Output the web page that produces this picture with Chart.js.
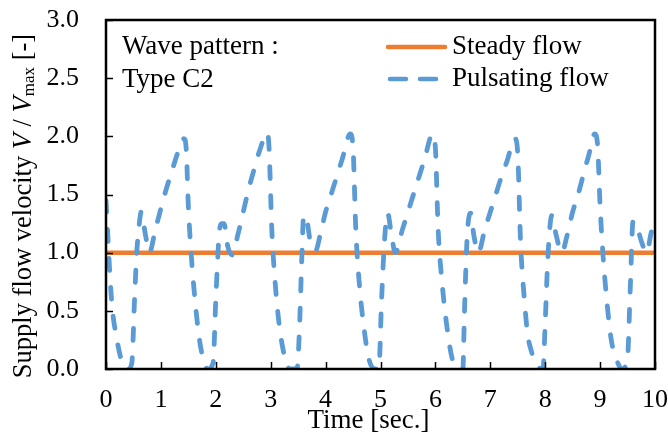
<!DOCTYPE html>
<html><head><meta charset="utf-8">
<script src="https://cdn.jsdelivr.net/npm/chart.js@4/dist/chart.umd.min.js"></script>
<style>html,body{margin:0;padding:0;background:#fff;overflow:hidden;}#wrap{width:668px;height:436px;}</style>
</head><body><div id="wrap"><canvas id="c" width="668" height="436"></canvas></div>
<script>
// ---- data ----
const timeSec = [0,0.1,0.2,0.3,0.4,0.47,0.52,0.56,0.6,0.64,0.72,0.79,0.9,1.0,1.1,1.2,1.3,1.42,1.46,1.5,1.55,1.62,1.7,1.78,1.85,1.95,2.0,2.06,2.1,2.15,2.22,2.3,2.4,2.5,2.6,2.7,2.8,2.94,2.97,3.02,3.08,3.15,3.22,3.3,3.35,3.48,3.52,3.57,3.6,3.65,3.72,3.82,3.9,4.0,4.1,4.2,4.3,4.45,4.5,4.55,4.62,4.7,4.78,4.9,4.97,5.02,5.08,5.13,5.2,5.27,5.4,5.5,5.6,5.7,5.8,5.95,6.0,6.05,6.12,6.2,6.3,6.42,6.5,6.53,6.58,6.64,6.7,6.78,6.9,7.0,7.1,7.2,7.3,7.45,7.5,7.55,7.62,7.68,7.75,7.82,7.96,8.0,8.05,8.12,8.2,8.3,8.4,8.5,8.6,8.7,8.8,8.9,8.95,9.0,9.05,9.12,9.2,9.3,9.4,9.5,9.55,9.6,9.66,9.75,9.85,9.92,10.0];
const pulsatingFlow = [1.45,0.6,0.25,0.05,0,0.05,0.6,1.0,1.22,1.35,1.15,1.0,1.2,1.38,1.55,1.7,1.85,1.98,1.9,1.4,1.0,0.6,0.26,0.07,0,0.05,0.6,1.15,1.25,1.25,1.05,0.98,1.15,1.35,1.55,1.72,1.88,2.03,1.9,1.2,0.75,0.4,0.18,0.03,0,0,0.3,1.0,1.32,1.3,1.1,1.02,1.15,1.35,1.5,1.65,1.8,2.02,1.9,1.2,0.7,0.35,0.1,0,0,0.6,1.15,1.34,1.15,1.0,1.2,1.35,1.5,1.65,1.8,2.02,1.9,1.2,0.75,0.4,0.1,0,0,0.5,1.15,1.34,1.15,1.0,1.2,1.35,1.5,1.65,1.78,1.98,1.85,1.1,0.6,0.3,0.15,0.05,0,0.4,0.97,1.32,1.15,1.0,1.15,1.35,1.5,1.68,1.85,2.02,1.95,1.4,1.0,0.6,0.26,0.08,0,0.1,0.7,1.27,1.25,1.1,1.0,1.15,1.32];
const steadyTime = [0, 10];
const steadyFlow = [1.0, 1.0];
const xTickValues = [0,1,2,3,4,5,6,7,8,9,10];
const yTickValues = [0,0.5,1.0,1.5,2.0,2.5,3.0];
const seriesNames = ['Steady flow', 'Pulsating flow'];
const noteLines = ['Wave pattern :', 'Type C2'];

const ORANGE = '#ED7D31', BLUE = '#5B9BD5';
const SERIF = '"Liberation Serif", "Times New Roman", serif';

const decor = {
  id: 'decor',
  afterDatasetsDraw(chart) {
    const {ctx, chartArea: a, scales: {x, y}} = chart;
    ctx.save();
    ctx.strokeStyle = '#000'; ctx.lineWidth = 1.5;
    xTickValues.forEach(v => { const px = Math.round(x.getPixelForValue(v)) + 0.5;
      ctx.beginPath(); ctx.moveTo(px, a.bottom); ctx.lineTo(px, a.bottom - 7); ctx.stroke(); });
    yTickValues.forEach(v => { const py = Math.round(y.getPixelForValue(v)) + 0.5;
      ctx.beginPath(); ctx.moveTo(a.left, py); ctx.lineTo(a.left + 7, py); ctx.stroke(); });
    ctx.lineWidth = 2.5;
    ctx.strokeRect(a.left, a.top, a.right - a.left, a.bottom - a.top);
    ctx.fillStyle = '#000'; ctx.textBaseline = 'middle'; ctx.textAlign = 'left';
    ctx.font = '27px ' + SERIF;
    ctx.fillText(noteLines[0], a.left + 16, a.top + 27);
    ctx.fillText(noteLines[1], a.left + 16, a.top + 60);
    const lx0 = 388, lx1 = 445, tx = 452;
    const ly = [a.top + 27, a.top + 59];
    ctx.lineCap = 'round'; ctx.lineWidth = 4.5;
    ctx.strokeStyle = ORANGE; ctx.setLineDash([]);
    ctx.beginPath(); ctx.moveTo(lx0, ly[0]); ctx.lineTo(lx1, ly[0]); ctx.stroke();
    ctx.strokeStyle = BLUE; ctx.setLineDash([16, 14]);
    ctx.beginPath(); ctx.moveTo(lx0 + 2, ly[1]); ctx.lineTo(lx1, ly[1]); ctx.stroke();
    ctx.setLineDash([]);
    ctx.fillText(seriesNames[0], tx, ly[0]);
    ctx.fillText(seriesNames[1], tx, ly[1]);
    ctx.textAlign = 'center';
    ctx.font = '27px ' + SERIF;
    ctx.fillText('Time [sec.]', (a.left + a.right) / 2 - 12, 421);
    ctx.translate(24, 206);
    ctx.rotate(-Math.PI / 2);
    const parts = [
      {t: 'Supply flow velocity ', f: '26.5px ' + SERIF, dy: 0},
      {t: 'V', f: 'italic 26.5px ' + SERIF, dy: 0},
      {t: ' / ', f: '26.5px ' + SERIF, dy: 0},
      {t: 'V', f: 'italic 26.5px ' + SERIF, dy: 0},
      {t: 'max', f: '17px ' + SERIF, dy: 6},
      {t: ' [-]', f: '26.5px ' + SERIF, dy: 0}
    ];
    let total = 0;
    parts.forEach(p => { ctx.font = p.f; p.w = ctx.measureText(p.t).width; total += p.w; });
    let cx = -total / 2;
    ctx.textAlign = 'left';
    parts.forEach(p => { ctx.font = p.f; ctx.fillText(p.t, cx, p.dy); cx += p.w; });
    ctx.restore();
  }
};

function build() {
  new Chart(document.getElementById('c'), {
    type: 'line',
    data: {
      datasets: [
        { label: seriesNames[0], data: steadyTime.map((t, i) => ({x: t, y: steadyFlow[i]})),
          borderColor: ORANGE, borderWidth: 4.5, pointRadius: 0, tension: 0, order: 2 },
        { label: seriesNames[1], data: timeSec.map((t, i) => ({x: t, y: pulsatingFlow[i]})),
          borderColor: BLUE, borderWidth: 4.8, borderDash: [12, 17], borderCapStyle: 'round',
          borderJoinStyle: 'round', pointRadius: 0, cubicInterpolationMode: 'monotone', order: 1 }
      ]
    },
    options: {
      responsive: false, devicePixelRatio: 1, animation: false,
      layout: { padding: { left: 0, right: 13, top: 20, bottom: 0 } },
      plugins: { legend: { display: false }, tooltip: { enabled: false } },
      scales: {
        x: { type: 'linear', min: 0, max: 10,
          afterBuildTicks: s => { s.ticks = xTickValues.map(v => ({value: v})); },
          afterFit: s => { s.height = 67; s.paddingLeft = 0; s.paddingRight = 0; },
          grid: { display: false, drawTicks: false }, border: { display: false },
          ticks: { color: '#000', padding: 16, maxRotation: 0, font: { family: SERIF, size: 26 }, callback: v => String(v) } },
        y: { min: 0, max: 3,
          afterBuildTicks: s => { s.ticks = yTickValues.map(v => ({value: v})); },
          afterFit: s => { s.width = 106; s.paddingTop = 10; s.paddingBottom = 10; },
          grid: { display: false, drawTicks: false }, border: { display: false },
          ticks: { color: '#000', padding: 27, font: { family: SERIF, size: 26 }, callback: v => Number(v).toFixed(1) } }
      }
    },
    plugins: [decor]
  });
}
Promise.all([
  document.fonts.load('25px "Liberation Serif"'),
  document.fonts.load('italic 25px "Liberation Serif"')
]).then(build, build);
</script></body></html>
